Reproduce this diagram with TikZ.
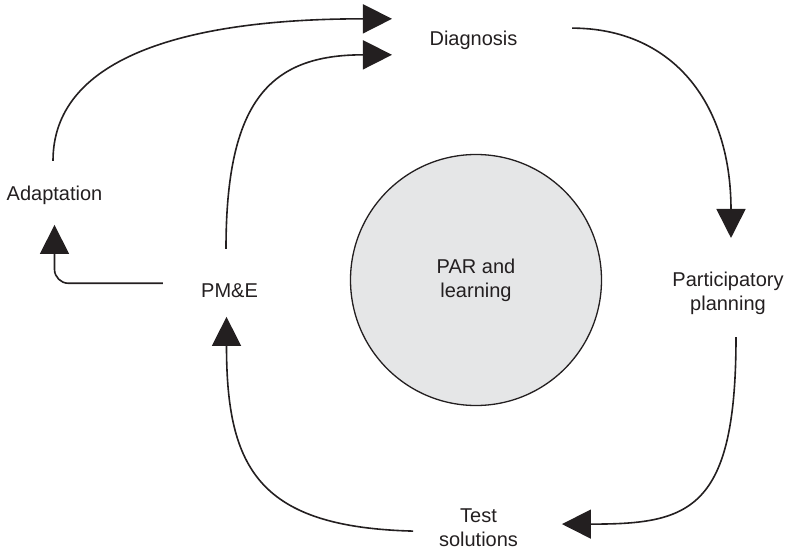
\documentclass[tikz,border=0pt]{standalone}
\usepackage{fontspec}
\setmainfont{Liberation Sans}
\usetikzlibrary{arrows.meta}
\definecolor{ink}{RGB}{35,31,32}
\definecolor{corefill}{RGB}{229,230,231}
\begin{document}
\begin{tikzpicture}[x=1pt,y=-1pt,
  txt/.style={inner sep=0pt, outer sep=0pt, text=ink,
    font=\fontsize{20}{24}\selectfont, align=center},
  flow/.style={draw=ink, line width=1.6pt,
    -{Triangle[length=29pt,width=29pt]}},
  ]
\useasboundingbox (0,0) rectangle (788,551);

% central circle
\node[txt, circle, draw=ink, fill=corefill, line width=1.3pt,
      minimum size=251pt] (core) at (476,280) {PAR and\\learning};

% stages of the cycle
\node[txt, anchor=base] (diag)  at (473.5,46)  {Diagnosis};
\node[txt, anchor=base] (adapt) at (54.5,200)  {Adaptation};
\node[txt, anchor=base] (pme)   at (229.5,297) {PM\&E};
\node[txt] (plan) at (728,293)   {Participatory\\planning};
\node[txt] (test) at (478.5,528) {Test\\solutions};

% arrow tips
\coordinate (t1) at ([shift={(-37.6,-22)}]diag.west);
\coordinate (t2) at ([shift={(-37.6,14)}]diag.west);
\coordinate (t3) at ([shift={(3,-33.7)}]plan.north);
\coordinate (t4) at ([shift={(44,-3.9)}]test.east);
\coordinate (t5) at ([shift={(-3,19.7)}]pme.south);
\coordinate (t6) at ([shift={(0,20.8)}]adapt.south);

% connectors
\draw[flow] ([shift={(-1.5,-24.7)}]adapt.north)
  .. controls +(0,-101) and +(-183,0) .. ([shift={(-29,0)}]t1) -- (t1);
\draw[flow] ([shift={(-3.5,-34.4)}]pme.north)
  .. controls +(0,-148) and +(-93,0) .. ([shift={(-29,0)}]t2) -- (t2);
\draw[flow] ([shift={(54.6,-12.7)}]diag.east)
  .. controls +(98,0) and +(0,-110) .. ([shift={(0,-28)}]t3) -- (t3);
\draw[flow] ([shift={(8,22.8)}]plan.south)
  .. controls +(0,173) and +(98,0) .. ([shift={(30,0)}]t4) -- (t4);
\draw[flow] ([shift={(-26,3.1)}]test.west)
  .. controls +(-153,-4) and +(0,124) .. ([shift={(0,29)}]t5) -- (t5);
\draw[flow, rounded corners=14pt] ([shift={(-38.2,-6.9)}]pme.west) -| (t6);
\end{tikzpicture}
\end{document}
